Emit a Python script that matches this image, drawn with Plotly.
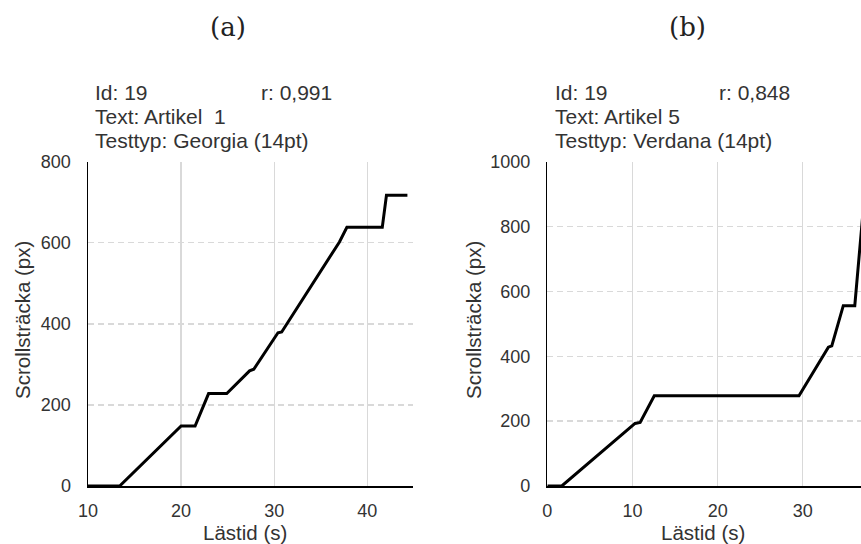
import plotly.graph_objects as go

# Panel (a): Georgia (14pt), Artikel 1
time_a = [10, 13.4, 20.0, 21.5, 22.95, 24.9, 27.35, 27.8, 30.4, 30.8, 37.0, 37.8, 41.6, 42.05, 44.3]
scroll_a = [0, 0, 148, 148, 228, 228, 284, 288, 378, 380, 602, 638, 638, 717, 717]

# Panel (b): Verdana (14pt), Artikel 5
time_b = [0, 1.7, 10.3, 10.9, 12.56, 29.55, 33.0, 33.4, 34.75, 36.1, 37.3]
scroll_b = [0, 0, 193, 196, 278, 278, 428, 432, 556, 556, 915]

x_ticks_a = [10, 20, 30, 40]
y_ticks_a = [0, 200, 400, 600, 800]
x_ticks_b = [0, 10, 20, 30]
y_ticks_b = [0, 200, 400, 600, 800, 1000]

W, H = 861, 544

def px(x):
    return x / W

def py(y):
    return 1 - y / H

fig = go.Figure()
fig.add_trace(go.Scatter(x=time_a, y=scroll_a, mode="lines",
                         line=dict(color="black", width=3), xaxis="x", yaxis="y",
                         showlegend=False))
fig.add_trace(go.Scatter(x=time_b, y=scroll_b, mode="lines",
                         line=dict(color="black", width=3), xaxis="x2", yaxis="y2",
                         showlegend=False))

tickfont = dict(family="Liberation Sans, Arial", size=18, color="#333333")
ax_common = dict(showline=True, linecolor="black", linewidth=1.5, zeroline=False,
                 ticks="", tickfont=tickfont, fixedrange=True, automargin=False)

ydom = [py(486), py(161.7)]
fig.update_layout(
    width=W, height=H,
    margin=dict(l=0, r=0, t=0, b=0, autoexpand=False),
    paper_bgcolor="white", plot_bgcolor="white",
    xaxis=dict(domain=[px(88), px(413)], range=[10, 44.9], tickvals=x_ticks_a,
               showgrid=True, gridcolor="#d9d9d9", gridwidth=1.3,
               anchor="y", ticklabelstandoff=8, **ax_common),
    yaxis=dict(domain=ydom, range=[0, 800], tickvals=y_ticks_a,
               showgrid=True, gridcolor="#d9d9d9", gridwidth=1.3, griddash="6px,4px",
               anchor="x", ticklabelstandoff=12, **ax_common),
    xaxis2=dict(domain=[px(547.3), 1], range=[0, 36.83], tickvals=x_ticks_b,
                showgrid=True, gridcolor="#d9d9d9", gridwidth=1.3,
                anchor="y2", ticklabelstandoff=8, **ax_common),
    yaxis2=dict(domain=ydom, range=[0, 1000], tickvals=y_ticks_b,
                showgrid=True, gridcolor="#d9d9d9", gridwidth=1.3, griddash="6px,4px",
                anchor="x2", ticklabelstandoff=12, **ax_common),
)

txtfont = dict(family="Liberation Sans, Arial", size=21, color="#333333")
titlefont = dict(family="Liberation Sans, Arial", size=20.5, color="#333333")
serif = dict(family="DejaVu Serif", size=26, color="#222222")
ann = []
def add(text, x, y, xanchor="left", font=txtfont, angle=0):
    ann.append(dict(text=text, x=px(x), y=py(y), xref="paper", yref="paper",
                    xanchor=xanchor, yanchor="middle", showarrow=False,
                    font=font, textangle=angle))

add("(a)", 228, 27, "center", serif)
add("(b)", 687, 27, "center", serif)

add("Id: 19", 93, 92)
add("r: 0,991", 259, 92)
add("Text: Artikel\u00a0\u00a01", 93, 116)
add("Testtyp: Georgia (14pt)", 93, 140)

add("Id: 19", 553, 92)
add("r: 0,848", 717, 92)
add("Text: Artikel 5", 553, 116)
add("Testtyp: Verdana (14pt)", 553, 140)

add("Lästid (s)", 245, 532, "center", titlefont)
add("Lästid (s)", 703, 532, "center", titlefont)
add("Scrollsträcka (px)", 22, 320, "center", titlefont, angle=-90)
add("Scrollsträcka (px)", 473, 320, "center", titlefont, angle=-90)

fig.update_layout(annotations=ann)
fig.write_html("out.html",
               config={"displayModeBar": False, "staticPlot": True},
               post_script="document.body.style.margin='0';document.body.style.overflow='hidden';")
